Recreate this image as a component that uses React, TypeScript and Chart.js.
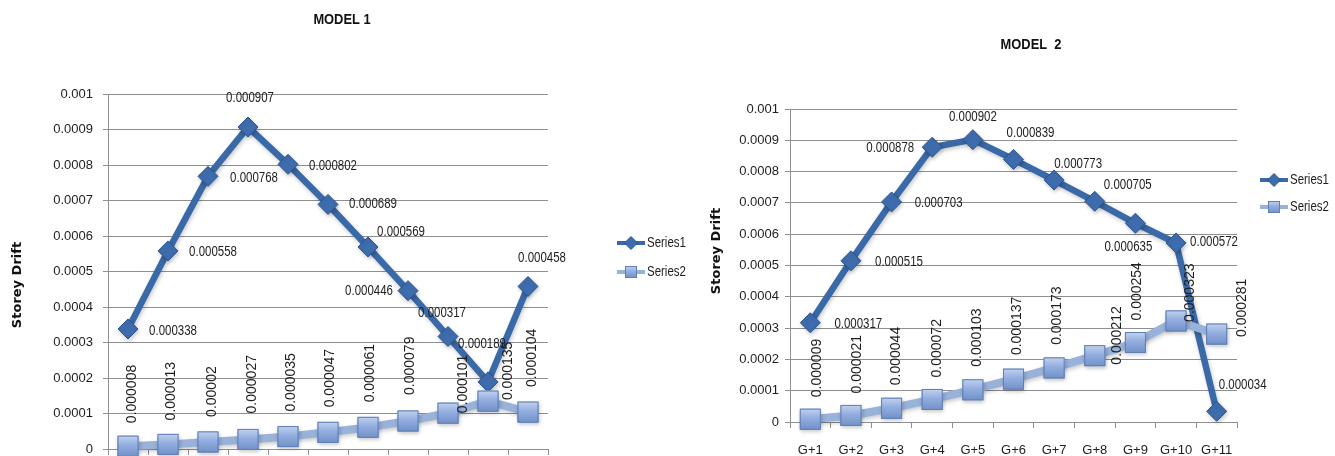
import React, { useEffect, useRef } from "react";
import { Chart, registerables } from "chart.js";

Chart.register(...registerables);

// ---------- data ----------
const categories = ["G+1", "G+2", "G+3", "G+4", "G+5", "G+6", "G+7", "G+8", "G+9", "G+10", "G+11"];
const seriesNames = ["Series1", "Series2"];

const model1Series1 = [0.000338, 0.000558, 0.000768, 0.000907, 0.000802, 0.000689, 0.000569, 0.000446, 0.000317, 0.000189, 0.000458];
const model1Series2 = [0.000008, 0.000013, 0.00002, 0.000027, 0.000035, 0.000047, 0.000061, 0.000079, 0.000101, 0.000135, 0.000104];

const model2Series1 = [0.000317, 0.000515, 0.000703, 0.000878, 0.000902, 0.000839, 0.000773, 0.000705, 0.000635, 0.000572, 0.000034];
const model2Series2 = [0.000009, 0.000021, 0.000044, 0.000072, 0.000103, 0.000137, 0.000173, 0.000212, 0.000254, 0.000323, 0.000281];

const yMin = 0;
const yMax = 0.001;
const yStep = 0.0001;
const yAxisTitle = "Storey Drift";

// ---------- label placement (offsets from the point, in px) ----------
const model1S1LabelOffsets = [[45, 2], [45, 1], [46, 2], [2, -29], [45, 2], [45, 0], [33, -15], [-39, 0], [-6, -23], [-6, -38], [14, -28]];
const model1S2LabelOffsets = [[4, -23], [3, -24], [4, -25], [4, -26], [3, -25], [2, -25], [2, -25], [2, -26], [15, 0], [20, -1], [4, -25]];
const model2S1LabelOffsets = [[48, 1], [48, 1], [47, 1], [-42, 1], [0, -23], [17, -26], [24, -16], [33, -16], [-7, 24], [38, -1], [26, -26]];
const model2S2LabelOffsets = [[7, -22], [6, -22], [5, -23], [5, -22], [4, -23], [4, -24], [3, -23], [22, 9], [2, -22], [14, 1], [25, 3]];

// ---------- styles ----------
const ARIAL = "'Liberation Sans', Arial, sans-serif";
const CONDENSE = 0.82;
const S1_LINE = "#3a69a8";
const S1_FILL = "#3e6daf";
const S1_BORDER = "#2c558e";
const S2_LINE = "#98b2d9";
const S2_TOP = "#c2d3ee";
const S2_BOTTOM = "#7191c6";
const S2_BORDER = "#5f7fb5";
const GRID = "#8f8f8f";
const TEXT = "#1e1e1e";

type Cfg = {
  left: number;
  w: number;
  h: number;
  title: string;
  titleX: number;
  titleY: number;
  yTitleX: number;
  yTitleY: number;
  padTop: number;
  padRight: number;
  yWidth: number;
  xHeight: number;
  yTickPad: number;
  legendX: number;
  legendY: number;
  legendGap: number;
  s1: number[];
  s2: number[];
  s1Off: number[][];
  s2Off: number[][];
};

const fmtTick = (v: number) => {
  const n = parseFloat(Number(v).toFixed(4));
  return n === 0 ? "0" : String(n);
};

function textScaled(ctx: CanvasRenderingContext2D, t: string, x: number, y: number, sx: number) {
  ctx.save();
  ctx.translate(x, y);
  ctx.scale(sx, 1);
  ctx.fillText(t, 0, 0);
  ctx.restore();
}

function drawDiamond(ctx: CanvasRenderingContext2D, x: number, y: number, r: number) {
  ctx.beginPath();
  ctx.moveTo(x - r, y);
  ctx.lineTo(x, y - r);
  ctx.lineTo(x + r, y);
  ctx.lineTo(x, y + r);
  ctx.closePath();
  ctx.fillStyle = S1_FILL;
  ctx.fill();
  ctx.strokeStyle = S1_BORDER;
  ctx.lineWidth = 1;
  ctx.stroke();
}

function drawBevelSquare(ctx: CanvasRenderingContext2D, x: number, y: number, s: number) {
  const g = ctx.createLinearGradient(x, y - s, x, y + s);
  g.addColorStop(0, S2_TOP);
  g.addColorStop(0.45, "#93ade0");
  g.addColorStop(1, S2_BOTTOM);
  ctx.fillStyle = g;
  ctx.fillRect(x - s, y - s, 2 * s, 2 * s);
  ctx.strokeStyle = S2_BORDER;
  ctx.lineWidth = 1;
  ctx.strokeRect(x - s + 0.5, y - s + 0.5, 2 * s - 1, 2 * s - 1);
}

function makePlugin(cfg: Cfg) {
  return {
    id: "excelDecor",
    beforeDatasetDraw(chart: any) {
      const ctx: CanvasRenderingContext2D = chart.ctx;
      ctx.save();
      ctx.shadowColor = "rgba(0,0,0,0.22)";
      ctx.shadowBlur = 4;
      ctx.shadowOffsetX = 1;
      ctx.shadowOffsetY = 2;
    },
    afterDatasetDraw(chart: any) {
      chart.ctx.restore();
    },
    afterDatasetsDraw(chart: any) {
      const ctx: CanvasRenderingContext2D = chart.ctx;
      const m0 = chart.getDatasetMeta(0);
      const m1 = chart.getDatasetMeta(1);
      ctx.save();
      // bevelled square markers for Series2
      m1.data.forEach((pt: any) => drawBevelSquare(ctx, pt.x, pt.y, 10.5));
      ctx.fillStyle = TEXT;
      ctx.font = `14px ${ARIAL}`;
      ctx.textAlign = "center";
      ctx.textBaseline = "middle";
      m0.data.forEach((pt: any, i: number) => {
        const [dx, dy] = cfg.s1Off[i];
        textScaled(ctx, String(cfg.s1[i]), pt.x + dx, pt.y + dy, CONDENSE);
      });
      ctx.font = `14px ${ARIAL}`;
      m1.data.forEach((pt: any, i: number) => {
        const [dx, dy] = cfg.s2Off[i];
        ctx.save();
        ctx.translate(pt.x + dx, pt.y + dy);
        ctx.rotate(-Math.PI / 2);
        ctx.textAlign = "left";
        ctx.textBaseline = "middle";
        ctx.fillText(String(cfg.s2[i]), 0, 0);
        ctx.restore();
      });
      ctx.restore();
    },
    afterDraw(chart: any) {
      const ctx: CanvasRenderingContext2D = chart.ctx;
      ctx.save();
      // title
      ctx.fillStyle = "#111";
      ctx.font = `bold 14px ${ARIAL}`;
      ctx.textAlign = "center";
      ctx.textBaseline = "middle";
      textScaled(ctx, cfg.title, cfg.titleX, cfg.titleY, 0.92);
      // y axis title
      ctx.save();
      ctx.translate(cfg.yTitleX, cfg.yTitleY);
      ctx.rotate(-Math.PI / 2);
      ctx.font = `bold 13px 'DejaVu Sans', Verdana, sans-serif`;
      ctx.fillText(yAxisTitle, 0, 0);
      ctx.restore();
      // legend
      const lx0 = cfg.legendX;
      const lx1 = cfg.legendX + 28;
      const lxm = (lx0 + lx1) / 2;
      ctx.font = `14px ${ARIAL}`;
      ctx.textAlign = "left";
      let y = cfg.legendY;
      ctx.strokeStyle = S1_LINE;
      ctx.lineWidth = 4;
      ctx.beginPath();
      ctx.moveTo(lx0, y);
      ctx.lineTo(lx1, y);
      ctx.stroke();
      drawDiamond(ctx, lxm, y, 6.5);
      ctx.fillStyle = TEXT;
      textScaled(ctx, seriesNames[0], lx1 + 2, y, CONDENSE);
      y = cfg.legendY + cfg.legendGap;
      ctx.strokeStyle = S2_LINE;
      ctx.lineWidth = 4;
      ctx.beginPath();
      ctx.moveTo(lx0, y);
      ctx.lineTo(lx1, y);
      ctx.stroke();
      drawBevelSquare(ctx, lxm, y, 6);
      ctx.fillStyle = TEXT;
      textScaled(ctx, seriesNames[1], lx1 + 2, y, CONDENSE);
      ctx.restore();
    },
  };
}

function ModelChart({ cfg }: { cfg: Cfg }) {
  const ref = useRef<HTMLCanvasElement>(null);
  useEffect(() => {
    if (!ref.current) return;
    const chart = new Chart(ref.current, {
      type: "line",
      data: {
        labels: categories,
        datasets: [
          {
            label: seriesNames[0],
            data: cfg.s1,
            borderColor: S1_LINE,
            borderWidth: 6.5,
            pointStyle: "rectRot",
            pointRadius: 10,
            pointHoverRadius: 10,
            pointBackgroundColor: S1_FILL,
            pointBorderColor: S1_BORDER,
            pointBorderWidth: 1,
            tension: 0,
            order: 1,
            clip: false as any,
          },
          {
            label: seriesNames[1],
            data: cfg.s2,
            borderColor: S2_LINE,
            borderWidth: 8,
            pointStyle: "rect",
            pointRadius: 14,
            pointHoverRadius: 14,
            pointBackgroundColor: "#8aa7d7",
            pointBorderColor: S2_BORDER,
            pointBorderWidth: 1,
            tension: 0,
            order: 0,
            clip: false as any,
          },
        ],
      },
      options: {
        responsive: false,
        animation: false,
        devicePixelRatio: 1,
        events: [],
        layout: { padding: { top: cfg.padTop, right: cfg.padRight, left: 0, bottom: 0 } },
        plugins: {
          legend: { display: false },
          title: { display: false },
          tooltip: { enabled: false },
        },
        scales: {
          x: {
            type: "category",
            offset: true,
            afterFit: (s: any) => {
              s.height = cfg.xHeight;
            },
            grid: {
              offset: true,
              drawOnChartArea: false,
              drawTicks: true,
              tickLength: 6,
              color: GRID,
            },
            border: { display: true, color: GRID, width: 1 },
            ticks: {
              color: TEXT,
              font: { family: ARIAL, size: 13 },
              padding: 15,
              maxRotation: 0,
              autoSkip: false,
            },
          },
          y: {
            type: "linear",
            min: yMin,
            max: yMax,
            afterFit: (s: any) => {
              s.width = cfg.yWidth;
            },
            grid: {
              color: GRID,
              lineWidth: 1,
              drawTicks: true,
              tickLength: 5,
            },
            border: { display: true, color: GRID, width: 1 },
            ticks: {
              stepSize: yStep,
              color: TEXT,
              font: { family: ARIAL, size: 13 },
              padding: cfg.yTickPad,
              callback: (v: any) => fmtTick(v),
            },
          },
        },
      },
      plugins: [makePlugin(cfg)],
    } as any);
    return () => chart.destroy();
  }, [cfg]);
  return (
    <canvas
      ref={ref}
      width={cfg.w}
      height={cfg.h}
      style={{ position: "absolute", left: cfg.left, top: 0, width: cfg.w, height: cfg.h }}
    />
  );
}

const cfg1: Cfg = {
  left: 0,
  w: 700,
  h: 490,
  title: "MODEL 1",
  titleX: 342,
  titleY: 20,
  yTitleX: 18,
  yTitleY: 285,
  padTop: 94,
  padRight: 152,
  yWidth: 108,
  xHeight: 41,
  yTickPad: 10,
  legendX: 617,
  legendY: 243,
  legendGap: 29,
  s1: model1Series1,
  s2: model1Series2,
  s1Off: model1S1LabelOffsets,
  s2Off: model1S2LabelOffsets,
};

const cfg2: Cfg = {
  left: 680,
  w: 655,
  h: 456,
  title: "MODEL  2",
  titleX: 351,
  titleY: 45,
  yTitleX: 37,
  yTitleY: 251,
  padTop: 109,
  padRight: 98,
  yWidth: 110,
  xHeight: 34,
  yTickPad: 6,
  legendX: 580,
  legendY: 180,
  legendGap: 27,
  s1: model2Series1,
  s2: model2Series2,
  s1Off: model2S1LabelOffsets,
  s2Off: model2S2LabelOffsets,
};

export default function App() {
  return (
    <div
      style={{
        position: "absolute",
        left: 0,
        top: 0,
        width: 1335,
        height: 456,
        overflow: "hidden",
        background: "#ffffff",
      }}
    >
      <ModelChart cfg={cfg1} />
      <ModelChart cfg={cfg2} />
    </div>
  );
}
